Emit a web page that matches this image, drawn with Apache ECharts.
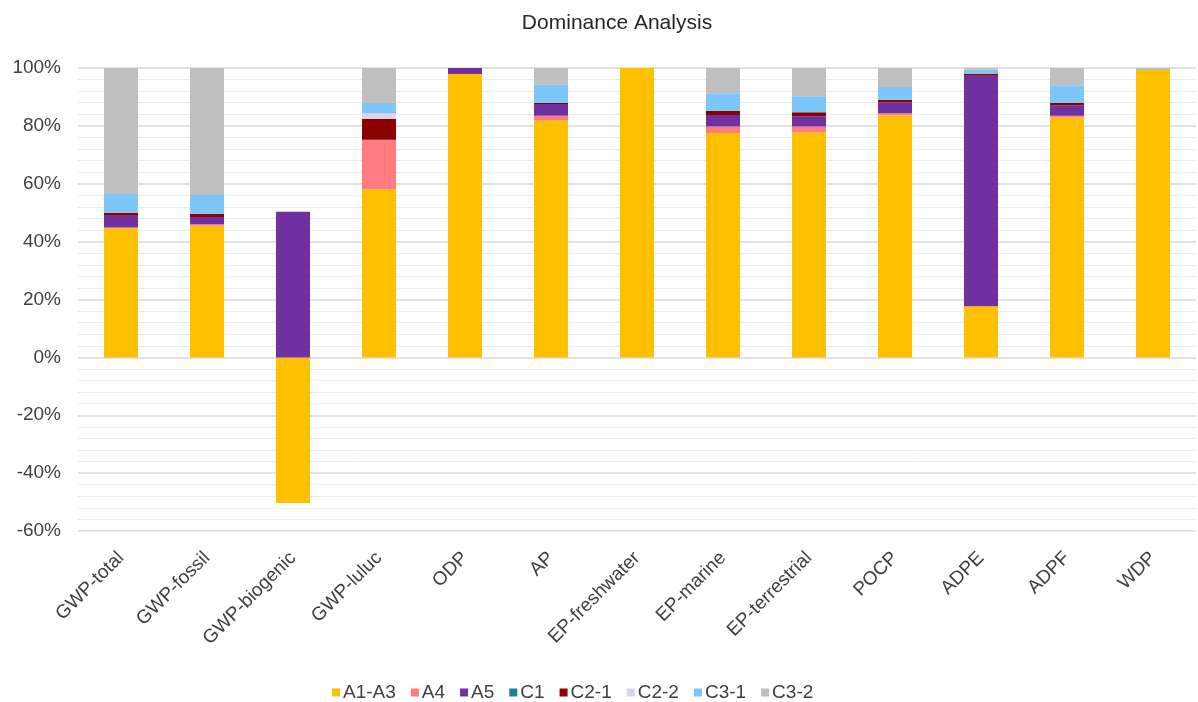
<!DOCTYPE html>
<html>
<head>
<meta charset="utf-8">
<script src="https://cdn.jsdelivr.net/npm/echarts@6/dist/echarts.min.js"></script>
<style>
html,body{margin:0;padding:0;background:#fff;}
#chart{width:1198px;height:702px;}
</style>
</head>
<body>
<div id="chart"></div>
<script>
const categories = ['GWP-total','GWP-fossil','GWP-biogenic','GWP-luluc','ODP','AP','EP-freshwater','EP-marine','EP-terrestrial','POCP','ADPE','ADPF','WDP'];
const seriesNames = ['A1-A3','A4','A5','C1','C2-1','C2-2','C3-1','C3-2'];
const a1a3 = [44.6, 45.5, -50.3, 58.1, 97.9, 81.9, 100, 77.5, 77.7, 83.6, 17.7, 83.0, 99.3];
const a4   = [0.3, 0.5, 0, 17.1, 0, 1.6, 0, 2.3, 2.1, 0.8, 0, 0.5, 0];
const a5   = [4.0, 2.5, 50.3, 0, 2.1, 4.1, 0, 4.0, 3.5, 3.7, 79.6, 3.5, 0];
const c1   = [0, 0, 0, 0, 0, 0, 0, 0, 0, 0, 0, 0, 0];
const c21  = [1.1, 1.1, 0, 7.2, 0, 0.3, 0, 1.4, 1.4, 0.9, 0.7, 0.9, 0];
const c22  = [0, 0, 0, 2.0, 0, 0, 0, 0, 0, 0, 0, 0, 0];
const c31  = [6.5, 6.5, 0, 3.5, 0, 6.3, 0, 6.1, 5.5, 4.4, 1.4, 6.1, 0];
const c32  = [43.5, 43.9, 0, 12.1, 0, 5.8, 0, 8.7, 9.8, 6.6, 0.6, 6.0, 0.7];
const yTicks = [-60, -40, -20, 0, 20, 40, 60, 80, 100];
const colors = ['#FFC000','#FF7C80','#7030A0','#1B7F9E','#8B0000','#DCD3EC','#7CC6FA','#BFBFBF'];
const values = [a1a3, a4, a5, c1, c21, c22, c31, c32];

const chart = echarts.init(document.getElementById('chart'));
const font = 'Liberation Sans, Arial, sans-serif';
chart.setOption({
  animation: false,
  title: {
    text: 'Dominance Analysis',
    left: 612, top: 8, textAlign: 'center',
    textStyle: {fontFamily: font, fontSize: 21, fontWeight: 'normal', color: '#262626'}
  },
  grid: {left: 78, right: 2, top: 68, bottom: 171, containLabel: false},
  legend: {
    data: seriesNames,
    left: 327, top: 678,
    itemWidth: 8, itemHeight: 8, itemGap: 15,
    icon: 'rect',
    textStyle: {fontFamily: font, fontSize: 19, color: '#404040', padding: [0,0,0,-2]}
  },
  xAxis: {
    type: 'category',
    data: categories,
    position: 'bottom',
    axisLine: {show: false, onZero: false},
    axisTick: {show: false},
    axisLabel: {rotate: 45, fontFamily: font, fontSize: 19, color: '#404040', margin: 24, interval: 0}
  },
  yAxis: {
    type: 'value',
    min: yTicks[0], max: yTicks[yTicks.length-1], interval: 20,
    axisLine: {show: false},
    axisTick: {show: false},
    axisLabel: {formatter: v => v + '%', fontFamily: font, fontSize: 19, color: '#404040', margin: 17},
    splitLine: {show: true, lineStyle: {color: '#D9D9D9', width: 1.5}},
    minorTick: {show: false, splitNumber: 5},
    minorSplitLine: {show: true, lineStyle: {color: '#EBEBEB', width: 1}}
  },
  series: seriesNames.map((name, i) => ({
    name: name,
    type: 'bar',
    stack: 'total',
    barWidth: 34,
    itemStyle: {color: colors[i]},
    data: values[i]
  }))
});
</script>
</body>
</html>
